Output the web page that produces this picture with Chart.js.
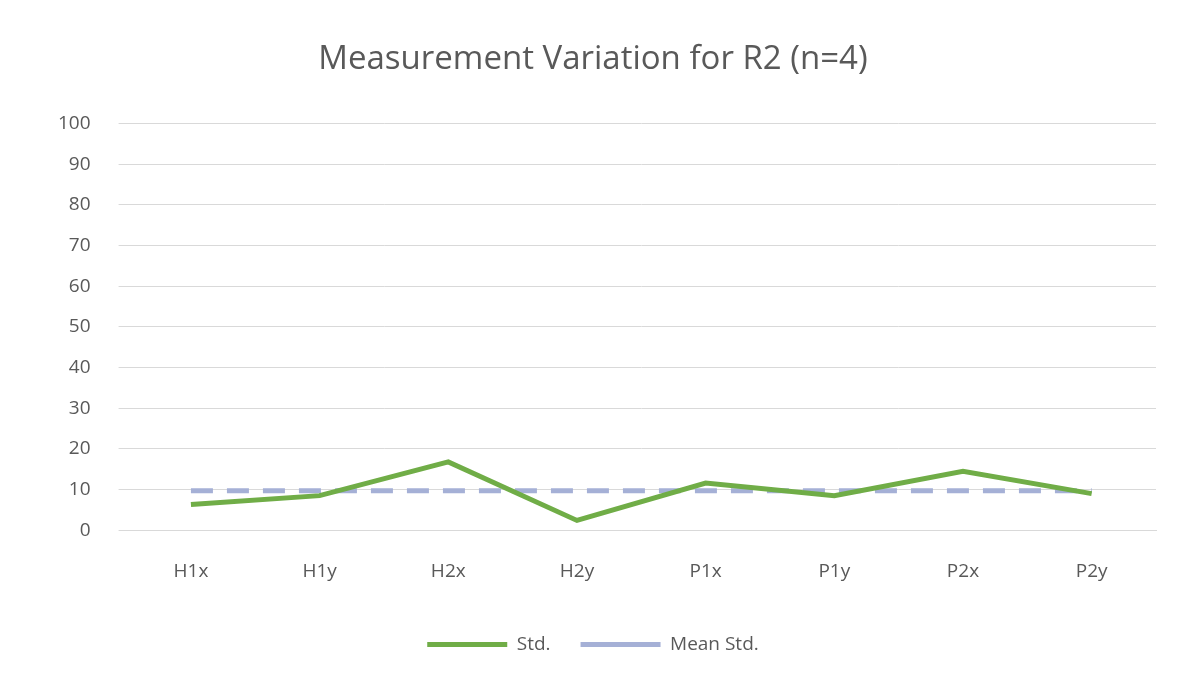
<!DOCTYPE html>
<html><head><meta charset="utf-8">
<script src="https://cdn.jsdelivr.net/npm/chart.js@4"></script>
<style>html,body{margin:0;background:#fff}#wrap{width:1192px;height:700px}</style>
</head><body><div id="wrap"><canvas id="c"></canvas></div>
<script>
const categories = ["H1x", "H1y", "H2x", "H2y", "P1x", "P1y", "P2x", "P2y"];
const stdValues = [6.3, 8.5, 16.8, 2.4, 11.6, 8.5, 14.5, 9.0];
const meanStd = [9.7, 9.7, 9.7, 9.7, 9.7, 9.7, 9.7, 9.7];
const yTicks = [0, 10, 20, 30, 40, 50, 60, 70, 80, 90, 100];

const text = "#595959";
const font = { family: "'Open Sans', 'DejaVu Sans', sans-serif", size: 19 };
new Chart(document.getElementById("c"), {
  type: "line",
  data: { labels: categories, datasets: [
    { label: "Std.", data: stdValues, borderColor: "#70ad47", borderWidth: 5,
      pointRadius: 0, tension: 0, order: 1 },
    { label: "Mean Std.", data: meanStd, borderColor: "#a5b0d6", borderWidth: 5,
      borderDash: [22, 14], pointRadius: 0, order: 2 }
  ] },
  options: {
    responsive: true, maintainAspectRatio: false, animation: false,
    layout: { padding: { left: 30, right: 36, top: 10, bottom: 36 } },
    plugins: {
      title: { display: true, text: "Measurement Variation for R2 (n=4)", color: text,
        font: { family: font.family, size: 33, weight: "normal" }, padding: { top: 30, bottom: 44 } },
      legend: { position: "bottom", labels: { color: text, font, boxWidth: 80, boxHeight: 5,
        padding: 30, generateLabels: chart => chart.data.datasets.map((d, i) => ({
          text: d.label, fillStyle: d.borderColor, strokeStyle: d.borderColor, lineWidth: 0,
          datasetIndex: i, fontColor: text })) } }
    },
    scales: {
      x: { offset: true, grid: { display: false }, border: { color: "#d9d9d9" },
        ticks: { color: text, font, padding: 22 } },
      y: { min: 0, max: 100, grid: { color: "#d9d9d9" }, border: { display: false },
        afterBuildTicks: s => { s.ticks = yTicks.map(v => ({ value: v })); },
        ticks: { color: text, font, padding: 28 } }
    }
  }
});
</script></body></html>
